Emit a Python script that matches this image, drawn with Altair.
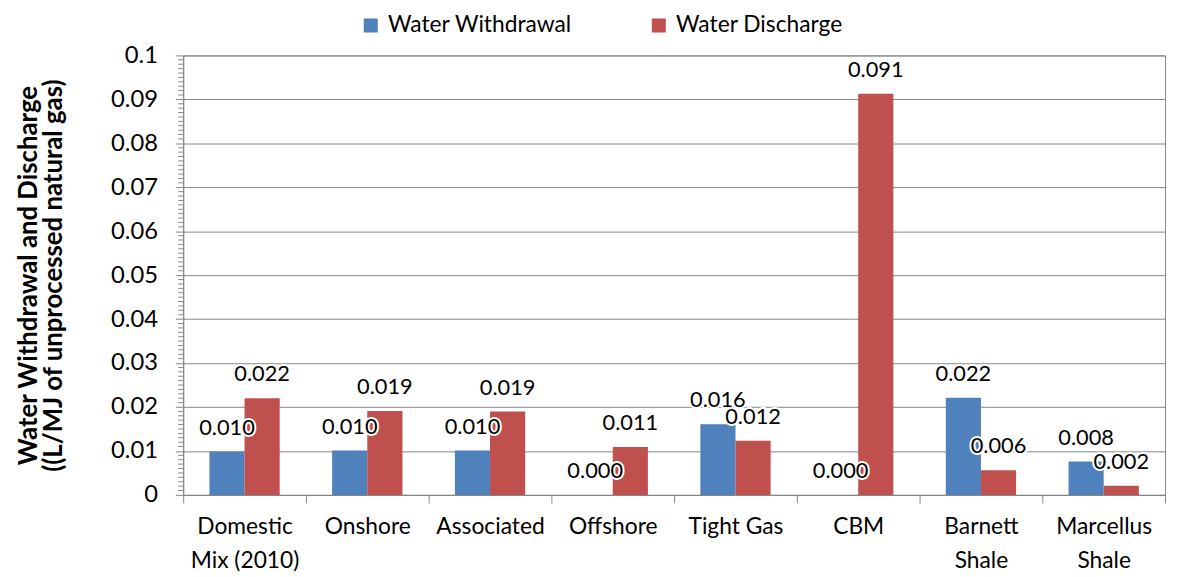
import altair as alt
import pandas as pd

categories = ["Domestic\nMix (2010)", "Onshore", "Associated", "Offshore",
              "Tight Gas", "CBM", "Barnett\nShale", "Marcellus\nShale"]
series = ["Water Withdrawal", "Water Discharge"]
withdrawal = [0.0099, 0.0101, 0.0101, 0.0, 0.0161, 0.0, 0.0221, 0.0076]
discharge = [0.0220, 0.0191, 0.0190, 0.0109, 0.0123, 0.0913, 0.0056, 0.0021]
major_ticks = [0, 0.01, 0.02, 0.03, 0.04, 0.05, 0.06, 0.07, 0.08, 0.09, 0.1]
# minor axis ticks every 0.001 (axis decoration, not data)
minor_ticks = [round(i / 1000, 3) for i in range(1, 100) if i % 10 != 0]
colors = ["#4F81BD", "#C0504D"]

GRID = "#868686"
FONT = "Lato"

df = pd.DataFrame({
    "category": categories * 2,
    "series": [series[0]] * len(categories) + [series[1]] * len(categories),
    "value": withdrawal + discharge,
})
minor_df = pd.DataFrame({"value": minor_ticks})

yscale = alt.Scale(domain=[0, 0.1], nice=False)
yaxis = alt.Axis(values=major_ticks,
                 labelExpr="format(datum.value, '~g')",
                 title=["Water Withdrawal and Discharge",
                        "((L/MJ of unprocessed natural gas)"],
                 titleFontSize=26, titleFontWeight="bold",
                 titleFont=FONT, titleColor="black",
                 titlePadding=44, titleLineHeight=26,
                 labelFontSize=24, labelFont=FONT, labelColor="black",
                 labelPadding=18, tickSize=8, tickColor=GRID,
                 domainColor=GRID, gridColor=GRID, grid=True)
y_enc = alt.Y("value:Q", scale=yscale, axis=yaxis)

x_enc = alt.X(
    "category:N", sort=categories,
    scale=alt.Scale(paddingInner=0, paddingOuter=0),
    axis=alt.Axis(title=None, labelAngle=0, tickBand="extent", tickSize=8,
                  labelExpr="split(datum.label, '\\n')", labelFontSize=23,
                  labelLineHeight=34, labelPadding=13, labelFont=FONT,
                  labelColor="black", domainColor=GRID, tickColor=GRID,
                  grid=False),
)
xoff = alt.XOffset("series:N", sort=series,
                   scale=alt.Scale(paddingInner=0, paddingOuter=0.746))

bars = alt.Chart(df).mark_bar().encode(
    x=x_enc,
    xOffset=xoff,
    y=y_enc,
    color=alt.Color("series:N", sort=series,
                    scale=alt.Scale(domain=series, range=colors),
                    legend=alt.Legend(title=None, orient="none", legendX=178,
                                      legendY=-42, direction="horizontal",
                                      symbolType="square", symbolSize=200,
                                      symbolStrokeWidth=0, labelFontSize=23,
                                      labelFont=FONT, labelColor="black",
                                      labelLimit=0,
                                      labelOffset=6, columnPadding=76)),
)

label_base = alt.Chart(df).encode(
    x=alt.X("category:N", sort=categories),
    xOffset=alt.XOffset("series:N", sort=series),
    y=y_enc,
    text=alt.Text("value:Q", format=".3f"),
)
labels_bg = label_base.mark_text(baseline="alphabetic", dy=-17, fontSize=22,
                                 font=FONT, stroke="white", strokeWidth=4,
                                 fill="white")
labels = label_base.mark_text(baseline="alphabetic", dy=-17, fontSize=22,
                              font=FONT, color="black")

minor = alt.Chart(minor_df).mark_rule(color=GRID).encode(
    y=y_enc,
    x=alt.value(-5), x2=alt.value(0),
)

chart = alt.layer(bars, labels_bg, labels, minor).properties(
    width=992, height=444,
    padding={"left": 7, "top": 3, "right": 4, "bottom": 0},
).configure_view(stroke=GRID)

chart.save("out.html", embed_options={"renderer": "svg", "actions": False})
